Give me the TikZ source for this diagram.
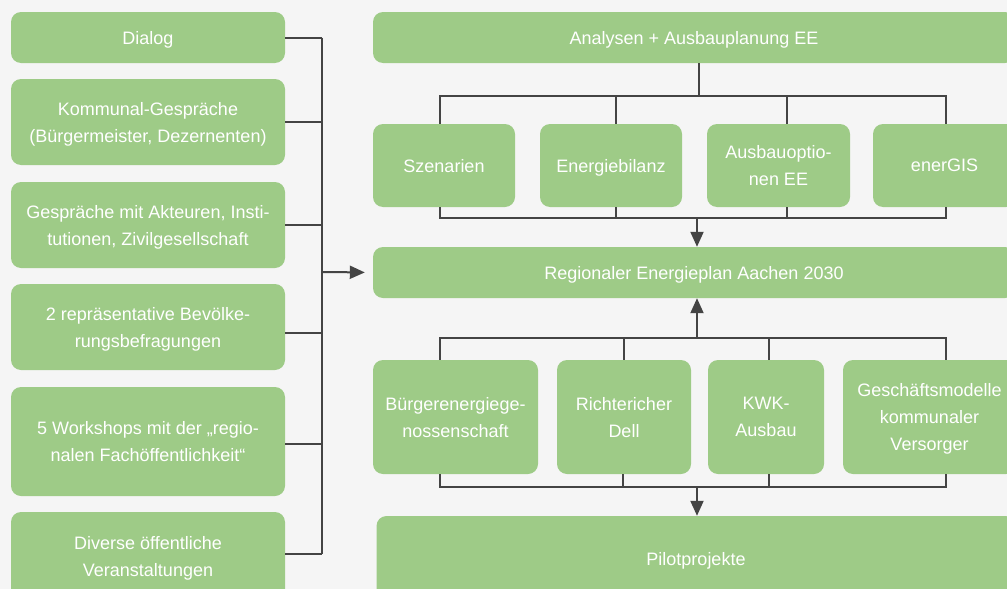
\documentclass[tikz,border=0pt]{standalone}
\usepackage{fontspec}
\setmainfont{Liberation Sans}
\usetikzlibrary{arrows.meta}
\definecolor{bg}{HTML}{F5F5F5}
\definecolor{grn}{HTML}{9ECB87}
\definecolor{ln}{HTML}{444444}
\begin{document}
\begin{tikzpicture}[x=1pt,y=-1pt,
  box/.style={fill=grn, rounded corners=10pt, text=white, align=center,
    font=\fontsize{18}{27}\selectfont, inner sep=0pt, text depth=-2pt},
  conn/.style={draw=ln, line width=2pt},
  arr/.style={conn, -{Triangle[length=15pt,width=13pt]}}]
\fill[bg] (0,0) rectangle (1007,589);
\useasboundingbox (0,0) rectangle (1007,589);
% left column
\node[box, minimum width=274pt, minimum height=51pt] (dialog) at (148,37.5) {Dialog};
\node[box, minimum width=274pt, minimum height=86pt] (komm) at (148,122) {Kommunal-Gespräche\\(Bürgermeister, Dezernenten)};
\node[box, minimum width=274pt, minimum height=86pt] (gespr) at (148,225) {Gespräche mit Akteuren, Insti-\\tutionen, Zivilgesellschaft};
\node[box, minimum width=274pt, minimum height=86pt] (bev) at (148,327) {2 repräsentative Bevölke-\\rungsbefragungen};
\node[box, minimum width=274pt, minimum height=109pt] (work) at (148,441.5) {5 Workshops mit der „regio-\\nalen Fachöffentlichkeit“};
\node[box, minimum width=274pt, minimum height=88pt] (div) at (148,556) {Diverse öffentliche\\Veranstaltungen};
% right column
\node[box, minimum width=642pt, minimum height=51pt] (anal) at (694,37.5) {Analysen + Ausbauplanung EE};
\node[box, minimum width=142pt, minimum height=83pt] (szen) at (444,165.5) {Szenarien};
\node[box, minimum width=142pt, minimum height=83pt] (ener) at (611,165.5) {Energiebilanz};
\node[box, minimum width=143pt, minimum height=83pt] (ausb) at (778.5,165.5) {Ausbauoptio-\\nen EE};
\node[box, minimum width=143pt, minimum height=83pt] (gis) at (944.5,165.5) {enerGIS};
\node[box, minimum width=642pt, minimum height=51pt] (reg) at (694,272.5) {Regionaler Energieplan Aachen 2030};
\node[box, minimum width=165pt, minimum height=114pt] (buer) at (455.5,417) {Bürgerenergiege-\\nossenschaft};
\node[box, minimum width=134pt, minimum height=114pt] (richt) at (624,417) {Richtericher\\Dell};
\node[box, minimum width=116pt, minimum height=114pt] (kwk) at (766,417) {KWK-\\Ausbau};
\node[box, minimum width=173pt, minimum height=114pt] (gesch) at (929.5,417) {Geschäftsmodelle\\kommunaler\\Versorger};
\node[box, minimum width=639pt, minimum height=86pt] (pilot) at (696,559) {Pilotprojekte};
% left bus
\coordinate (bus) at (322,272);
\draw[conn] (dialog.east) -- (dialog.east -| bus);
\draw[conn] (komm.east) -- (komm.east -| bus);
\draw[conn] (gespr.east) -- (gespr.east -| bus);
\draw[conn] ([yshift=-6pt]bev.east) -- ([yshift=-6pt]bev.east -| bus);
\draw[conn] ([yshift=-2.5pt]work.east) -- ([yshift=-2.5pt]work.east -| bus);
\draw[conn] ([yshift=2pt]div.east) -- ([yshift=2pt]div.east -| bus);
\draw[conn] (dialog.east -| bus) -- ([yshift=2pt]div.east -| bus);
\draw[arr, shorten >=8pt] (bus) -- (reg.west);
% top tree
\coordinate (t1) at (699,95.7);
\draw[conn] (t1 |- anal.south) -- (t1);
\draw[conn] ([xshift=-4pt]szen.north) |- ([xshift=1.5pt]gis.north |- t1) -- ([xshift=1.5pt]gis.north);
\draw[conn] ([xshift=5pt]ener.north) -- ([xshift=5pt]ener.north |- t1);
\draw[conn] ([xshift=8pt]ausb.north) -- ([xshift=8pt]ausb.north |- t1);
\coordinate (b1) at (697,218);
\draw[conn] ([xshift=-4pt]szen.south) |- ([xshift=1.5pt]gis.south |- b1) -- ([xshift=1.5pt]gis.south);
\draw[conn] ([xshift=5pt]ener.south) -- ([xshift=5pt]ener.south |- b1);
\draw[conn] ([xshift=8pt]ausb.south) -- ([xshift=8pt]ausb.south |- b1);
\draw[arr] (b1) -- (b1 |- reg.north);
% bottom tree
\coordinate (t2) at (697,337.7);
\draw[arr] (t2) -- (t2 |- reg.south);
\draw[conn] ([xshift=-15.5pt]buer.north) |- ([xshift=16.5pt]gesch.north |- t2) -- ([xshift=16.5pt]gesch.north);
\draw[conn] (richt.north) -- (richt.north |- t2);
\draw[conn] ([xshift=3pt]kwk.north) -- ([xshift=3pt]kwk.north |- t2);
\coordinate (b2) at (697,487);
\draw[conn] ([xshift=-15.5pt]buer.south) |- ([xshift=16.5pt]gesch.south |- b2) -- ([xshift=16.5pt]gesch.south);
\draw[conn] ([xshift=-1pt]richt.south) -- ([xshift=-1pt]richt.south |- b2);
\draw[conn] ([xshift=3pt]kwk.south) -- ([xshift=3pt]kwk.south |- b2);
\draw[arr] (b2) -- (b2 |- pilot.north);
\end{tikzpicture}
\end{document}
